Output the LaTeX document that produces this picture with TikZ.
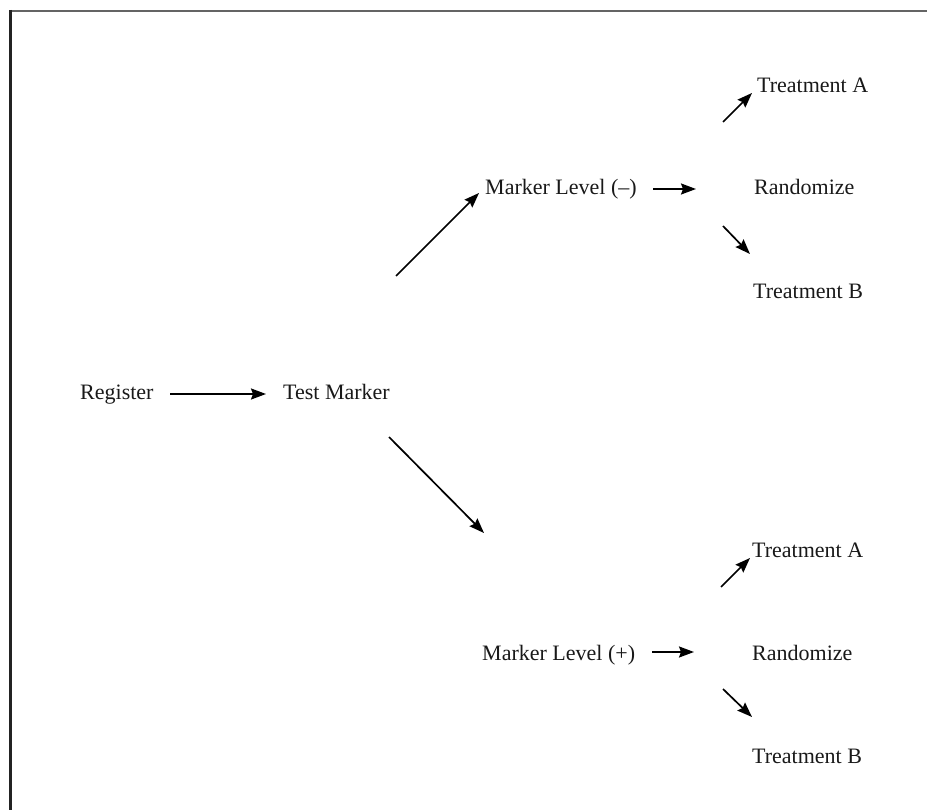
\documentclass[tikz,border=0pt]{standalone}
\usepackage{fontspec}
\setmainfont{Liberation Serif}
\usetikzlibrary{arrows.meta}
\begin{document}
\begin{tikzpicture}[x=1pt,y=-1pt,
  lbl/.style={anchor=base west,inner sep=0pt,text=black!90,font=\fontsize{22}{26}\selectfont},
  arr/.style={line width=1.7pt,-{Stealth[length=15pt,width=11pt,inset=2pt]}},
  frametop/.style={line width=2.5pt,draw={rgb,255:red,100;green,100;blue,100}},
  frameleft/.style={line width=2.5pt,draw={rgb,255:red,35;green,35;blue,35}}]
\useasboundingbox (0,0) rectangle (927,810);
\draw[frametop] (9.5,11) -- (927,11);
\draw[frameleft] (10.5,10) -- (10.5,810);
% nodes
\node[lbl] (reg) at (80,400) {Register};
\node[lbl] (test) at (283,400) {Test Marker};
\node[lbl] (mlm) at (485,195) {Marker Level (–)};
\node[lbl] (rm) at (754,195) {Randomize};
\node[lbl] (tam) at (757,93) {Treatment A};
\node[lbl] (tbm) at (753,299) {Treatment B};
\node[lbl] (mlp) at (482,660) {Marker Level (+)};
\node[lbl] (rp) at (752,660) {Randomize};
\node[lbl] (tap) at (752,557) {Treatment A};
\node[lbl] (tbp) at (752,763) {Treatment B};
% connector end points
\coordinate (r1s) at (170,394); \coordinate (r1e) at (266,394);
\coordinate (c1s) at (396,276); \coordinate (c1e) at (479,193);
\coordinate (c2s) at (389,437); \coordinate (c2e) at (484,533);
\coordinate (m1s) at (653,189); \coordinate (m1e) at (696,189);
\coordinate (c3s) at (723,122); \coordinate (c3e) at (752,93);
\coordinate (c4s) at (723,226); \coordinate (c4e) at (750,254);
\coordinate (p1s) at (652,652); \coordinate (p1e) at (694,652);
\coordinate (c5s) at (721,587); \coordinate (c5e) at (750,558);
\coordinate (c6s) at (723,689); \coordinate (c6e) at (752,717);
% connectors
\draw[arr] (r1s) -- (r1e);
\draw[arr] (c1s) -- (c1e);
\draw[arr] (c2s) -- (c2e);
\draw[arr] (m1s) -- (m1e);
\draw[arr] (c3s) -- (c3e);
\draw[arr] (c4s) -- (c4e);
\draw[arr] (p1s) -- (p1e);
\draw[arr] (c5s) -- (c5e);
\draw[arr] (c6s) -- (c6e);
\end{tikzpicture}
\end{document}
